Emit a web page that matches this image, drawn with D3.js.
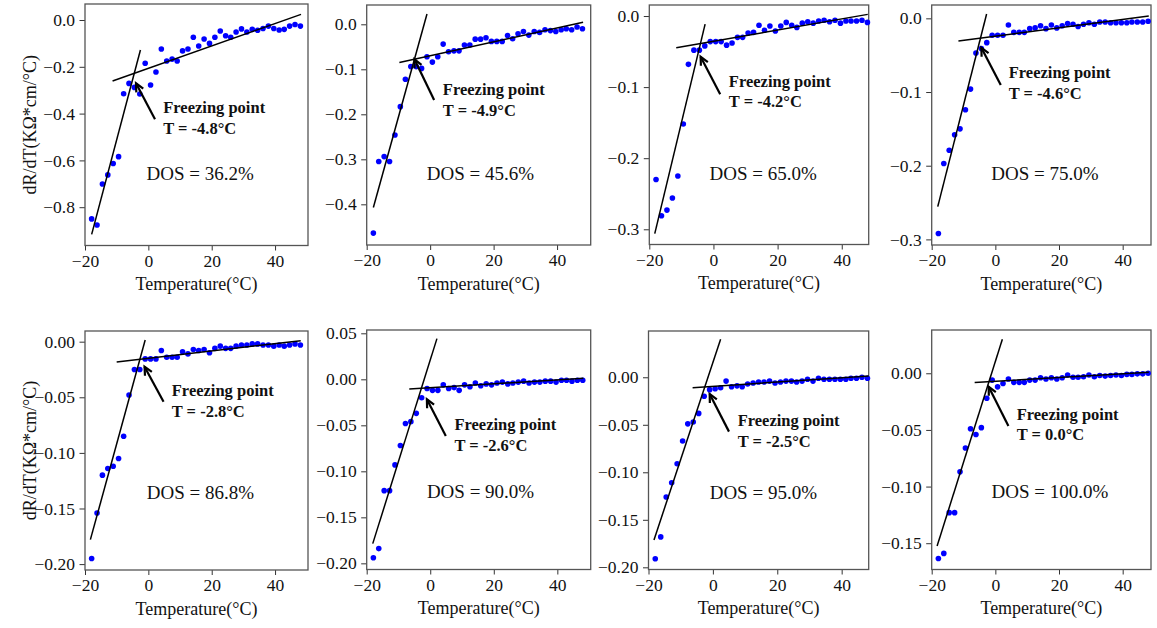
<!DOCTYPE html>
<html>
<head>
<meta charset="utf-8">
<script src="https://cdn.jsdelivr.net/npm/d3@7/dist/d3.min.js"></script>
<style>
  html, body { margin: 0; padding: 0; background: #fff; }
  svg { display: block; }
  svg text { font-family: "Liberation Serif", "Times New Roman", serif !important; fill: #111; }
</style>
</head>
<body>
<svg id="chart" width="1157" height="628" font-family="Liberation Serif, Times New Roman, serif"></svg>
<script>
// ---------------- DATA ----------------
const temperature = [-17.9, -16.2, -14.5, -12.8, -11.1, -9.4, -7.8, -6.1, -4.4, -2.7,
  -1.0, 0.7, 2.4, 4.1, 5.8, 7.5, 9.1, 10.8, 12.5, 14.2,
  15.9, 17.6, 19.3, 21.0, 22.7, 24.4, 26.0, 27.7, 29.4, 31.1,
  32.8, 34.5, 36.2, 37.9, 39.6, 41.3, 42.9, 44.6, 46.3, 48.0];

const dosLabels = ["36.2%", "45.6%", "65.0%", "75.0%", "86.8%", "90.0%", "95.0%", "100.0%"];
const freezingLabels = ["-4.8", "-4.9", "-4.2", "-4.6", "-2.8", "-2.6", "-2.5", "0.0"];

const dRdT_dos36 = [-0.850, -0.876, -0.701, -0.662, -0.613, -0.584, -0.315, -0.271, -0.288, -0.316,
  -0.185, -0.278, -0.222, -0.124, -0.175, -0.167, -0.175, -0.132, -0.124, -0.074,
  -0.111, -0.081, -0.100, -0.074, -0.047, -0.067, -0.074, -0.051, -0.038, -0.051,
  -0.040, -0.044, -0.036, -0.026, -0.036, -0.043, -0.040, -0.026, -0.019, -0.026];
const dRdT_dos46 = [-0.464, -0.305, -0.294, -0.305, -0.246, -0.183, -0.122, -0.094, -0.094, -0.098,
  -0.072, -0.084, -0.072, -0.044, -0.061, -0.059, -0.059, -0.046, -0.046, -0.033,
  -0.033, -0.030, -0.038, -0.038, -0.038, -0.025, -0.032, -0.021, -0.016, -0.024,
  -0.016, -0.018, -0.012, -0.014, -0.016, -0.012, -0.010, -0.012, -0.006, -0.010];
const dRdT_dos65 = [-0.230, -0.281, -0.273, -0.256, -0.225, -0.152, -0.068, -0.048, -0.048, -0.042,
  -0.036, -0.036, -0.036, -0.041, -0.038, -0.030, -0.030, -0.024, -0.023, -0.013,
  -0.020, -0.014, -0.021, -0.014, -0.009, -0.013, -0.016, -0.010, -0.008, -0.010,
  -0.007, -0.006, -0.008, -0.006, -0.010, -0.007, -0.007, -0.007, -0.006, -0.009];
const dRdT_dos75 = [-0.292, -0.197, -0.179, -0.158, -0.150, -0.124, -0.096, -0.047, -0.041, -0.033,
  -0.023, -0.023, -0.023, -0.009, -0.019, -0.019, -0.019, -0.014, -0.013, -0.010,
  -0.014, -0.009, -0.013, -0.010, -0.007, -0.008, -0.011, -0.008, -0.006, -0.008,
  -0.005, -0.005, -0.006, -0.006, -0.006, -0.006, -0.005, -0.005, -0.005, -0.004];
const dRdT_dos87 = [-0.195, -0.154, -0.120, -0.114, -0.112, -0.105, -0.085, -0.048, -0.025, -0.025,
  -0.0155, -0.0155, -0.0155, -0.008, -0.014, -0.014, -0.014, -0.009, -0.011, -0.007,
  -0.008, -0.007, -0.010, -0.006, -0.004, -0.006, -0.006, -0.004, -0.003, -0.003,
  -0.002, -0.002, -0.003, -0.003, -0.004, -0.003, -0.004, -0.003, -0.002, -0.003];
const dRdT_dos90 = [-0.194, -0.184, -0.121, -0.121, -0.093, -0.072, -0.048, -0.046, -0.037, -0.020,
  -0.010, -0.012, -0.012, -0.006, -0.010, -0.009, -0.012, -0.006, -0.008, -0.004,
  -0.007, -0.005, -0.006, -0.004, -0.003, -0.005, -0.004, -0.003, -0.002, -0.004,
  -0.003, -0.003, -0.002, -0.002, -0.003, -0.001, -0.001, -0.002, -0.001, -0.001];
const dRdT_dos95 = [-0.191, -0.168, -0.126, -0.111, -0.091, -0.067, -0.049, -0.047, -0.038, -0.020,
  -0.013, -0.012, -0.011, -0.004, -0.010, -0.009, -0.010, -0.007, -0.006, -0.005,
  -0.005, -0.004, -0.006, -0.005, -0.004, -0.004, -0.005, -0.004, -0.002, -0.004,
  -0.001, -0.002, -0.002, -0.002, -0.002, -0.002, -0.001, -0.001, 0.000, -0.001];
const dRdT_dos100 = [-0.1635, -0.159, -0.123, -0.123, -0.087, -0.066, -0.049, -0.054, -0.048, -0.022,
  -0.006, -0.012, -0.009, -0.005, -0.008, -0.008, -0.008, -0.006, -0.006, -0.004,
  -0.005, -0.004, -0.005, -0.004, -0.0015, -0.0035, -0.0035, -0.003, -0.0015, -0.003,
  -0.002, -0.0025, -0.002, -0.0015, -0.002, -0.001, -0.001, -0.0005, -0.0005, 0.000];

const seriesList = [dRdT_dos36, dRdT_dos46, dRdT_dos65, dRdT_dos75,
                    dRdT_dos87, dRdT_dos90, dRdT_dos95, dRdT_dos100];

// fitted lines: [T0, v0, T1, v1]
const steepLines = [
  [-17.9, -0.916, -2.5, -0.128],
  [-17.9, -0.407, -1.0, 0.023],
  [-18.3, -0.306, -2.6, -0.0113],
  [-18.1, -0.2555, -2.75, 0.0059],
  [-18.3, -0.178, -1.0, 0.0015],
  [-18.1, -0.1786, 2.1, 0.0442],
  [-18.3, -0.1712, 2.4, 0.0400],
  [-18.3, -0.1524, 2.2, 0.0300]
];
const shallowLines = [
  [-11.3, -0.261, 48.2, 0.024],
  [-9.7, -0.085, 48.2, 0.0044],
  [-11.6, -0.0445, 48.1, 0.0023],
  [-11.6, -0.0308, 48.2, 0.0032],
  [-10.0, -0.0183, 48.1, 0.0009],
  [-6.6, -0.0105, 48.2, 0.0011],
  [-6.3, -0.0109, 48.4, 0.0014],
  [-6.5, -0.0082, 48.2, 0.0009]
];

// axis limits and ticks
const xDomains = [[-20, 50.4], [-20, 50.6], [-20, 48.4], [-20, 48.9],
                  [-20, 50.4], [-20, 50.5], [-20, 48.4], [-20, 48.9]];
const yDomains = [[-0.9637, 0.0684], [-0.4904, 0.0429], [-0.3214, 0.0155], [-0.3076, 0.0181],
                  [-0.2053, 0.0096], [-0.2067, 0.0536], [-0.2023, 0.0487], [-0.1732, 0.0382]];
const xTickValues = [-20, 0, 20, 40];
const yTickValues = [
  [0, -0.2, -0.4, -0.6, -0.8],
  [0, -0.1, -0.2, -0.3, -0.4],
  [0, -0.1, -0.2, -0.3],
  [0, -0.1, -0.2, -0.3],
  [0, -0.05, -0.10, -0.15, -0.20],
  [0.05, 0, -0.05, -0.10, -0.15, -0.20],
  [0, -0.05, -0.10, -0.15, -0.20],
  [0, -0.05, -0.10, -0.15]
];
const yTickFormats = [".1f", ".1f", ".1f", ".1f", ".2f", ".2f", ".2f", ".2f"];

// annotations in data coordinates
const arrowTails = [[2.1, -0.4245], [1.25, -0.168], [2.1, -0.110], [1.7, -0.0905],
                    [4.8, -0.054], [4.9, -0.0616], [5.0, -0.0572], [4.1, -0.0465]];
const arrowHeads = [[-3.9, -0.2707], [-4.95, -0.0778], [-4.0, -0.0572], [-4.4, -0.0398],
                    [-1.2, -0.0225], [-1.06, -0.0217], [-1.0, -0.0175], [-2.1, -0.0118]];
const freezeTextAt = [[4.7, -0.396], [4.0, -0.157], [4.8, -0.0995], [4.2, -0.0814],
                      [7.4, -0.0489], [7.6, -0.0551], [7.7, -0.0512], [6.7, -0.0412]];
const tempTextAt = [[4.7, -0.4886], [4.0, -0.203], [4.8, -0.1285], [4.2, -0.1099],
                    [7.4, -0.0674], [7.6, -0.0779], [7.7, -0.073], [6.7, -0.0588]];
const dosTextAt = [[-0.6, -0.684], [-1.06, -0.346], [-1.2, -0.2307], [-1.3, -0.2194],
                   [-0.5, -0.1415], [-1.06, -0.1293], [-1.0, -0.128], [-1.2, -0.1097]];

const xLabel = "Temperature(°C)";
const yLabel = "dR/dT(KΩ*cm/°C)";

// ---------------- LAYOUT ----------------
const panelBoxes = [
  {x0: 85, x1: 308, y0: 4, y1: 245.5},
  {x0: 366.7, x1: 590.7, y0: 5, y1: 245},
  {x0: 649.3, x1: 868.7, y0: 5, y1: 244.5},
  {x0: 931.7, x1: 1151, y0: 5, y1: 245},
  {x0: 85, x1: 308, y0: 331, y1: 570},
  {x0: 366.7, x1: 590.7, y0: 330, y1: 569.5},
  {x0: 648.5, x1: 868.7, y0: 331, y1: 569.5},
  {x0: 931.7, x1: 1151, y0: 330, y1: 569.5}
];

const FONT = '"Liberation Serif", "Times New Roman", serif';
const svg = d3.select("#chart");

seriesList.forEach((vals, i) => {
  const b = panelBoxes[i];
  const x = d3.scaleLinear().domain(xDomains[i]).range([b.x0, b.x1]);
  const y = d3.scaleLinear().domain(yDomains[i]).range([b.y1, b.y0]);
  const g = svg.append("g");

  // axes
  const xa = g.append("g").attr("transform", `translate(0,${b.y1})`)
    .call(d3.axisBottom(x).tickValues(xTickValues).tickSize(5).tickPadding(4)
      .tickFormat(d3.format("d")));
  const ya = g.append("g").attr("transform", `translate(${b.x0},0)`)
    .call(d3.axisLeft(y).tickValues(yTickValues[i]).tickSize(5.5).tickPadding(4.5)
      .tickFormat(d3.format(yTickFormats[i])));
  [xa, ya].forEach(a => {
    a.attr("font-family", FONT).attr("font-size", 17.5);
    a.select(".domain").remove();
    a.selectAll("line").attr("stroke", "#333").attr("stroke-width", 1);
    a.selectAll("text").attr("font-size", 17.5).attr("fill", "#111")
      .attr("font-family", FONT).style("font-family", FONT);
  });

  // frame
  g.append("rect").attr("x", b.x0).attr("y", b.y0)
    .attr("width", b.x1 - b.x0).attr("height", b.y1 - b.y0)
    .attr("fill", "none").attr("stroke", "#555").attr("stroke-width", 1.3);

  // data points
  g.append("g").selectAll("circle").data(vals).join("circle")
    .attr("cx", (d, k) => x(temperature[k]))
    .attr("cy", d => y(d))
    .attr("r", 2.8)
    .attr("fill", "#0000ff");

  // fit lines
  [steepLines[i], shallowLines[i]].forEach(l => {
    g.append("line")
      .attr("x1", x(l[0])).attr("y1", y(l[1]))
      .attr("x2", x(l[2])).attr("y2", y(l[3]))
      .attr("stroke", "#000").attr("stroke-width", 1.5);
  });

  // arrow
  const tx = x(arrowTails[i][0]), ty = y(arrowTails[i][1]);
  const hx = x(arrowHeads[i][0]), hy = y(arrowHeads[i][1]);
  const ang = Math.atan2(ty - hy, tx - hx);
  const L = 9, a = 0.45;
  g.append("line").attr("x1", tx).attr("y1", ty).attr("x2", hx).attr("y2", hy)
    .attr("stroke", "#000").attr("stroke-width", 2.2);
  g.append("path")
    .attr("d", `M${hx + L * Math.cos(ang + a)},${hy + L * Math.sin(ang + a)}L${hx},${hy}L${hx + L * Math.cos(ang - a)},${hy + L * Math.sin(ang - a)}`)
    .attr("fill", "none").attr("stroke", "#000").attr("stroke-width", 2.2)
    .attr("stroke-linejoin", "miter");

  // texts
  g.append("text").attr("x", x(freezeTextAt[i][0])).attr("y", y(freezeTextAt[i][1]))
    .attr("font-family", FONT)
    .attr("font-size", 16.5).attr("font-weight", "bold").text("Freezing point");
  g.append("text").attr("x", x(tempTextAt[i][0])).attr("y", y(tempTextAt[i][1]))
    .attr("font-family", FONT)
    .attr("font-size", 16.5).attr("font-weight", "bold").text(`T = ${freezingLabels[i]}°C`);
  g.append("text").attr("x", x(dosTextAt[i][0])).attr("y", y(dosTextAt[i][1]))
    .attr("font-family", FONT)
    .attr("font-size", 19).text(`DOS = ${dosLabels[i]}`);

  // axis labels
  g.append("text").attr("x", (b.x0 + b.x1) / 2).attr("y", b.y1 + 44.5)
    .attr("font-family", FONT)
    .attr("text-anchor", "middle").attr("font-size", 18).text(xLabel);
  if (i % 4 === 0) {
    const cy = (b.y0 + b.y1) / 2;
    g.append("text").attr("transform", `translate(36,${cy}) rotate(-90)`)
      .attr("font-family", FONT)
      .attr("text-anchor", "middle").attr("font-size", 18).text(yLabel);
  }
});
</script>
</body>
</html>
